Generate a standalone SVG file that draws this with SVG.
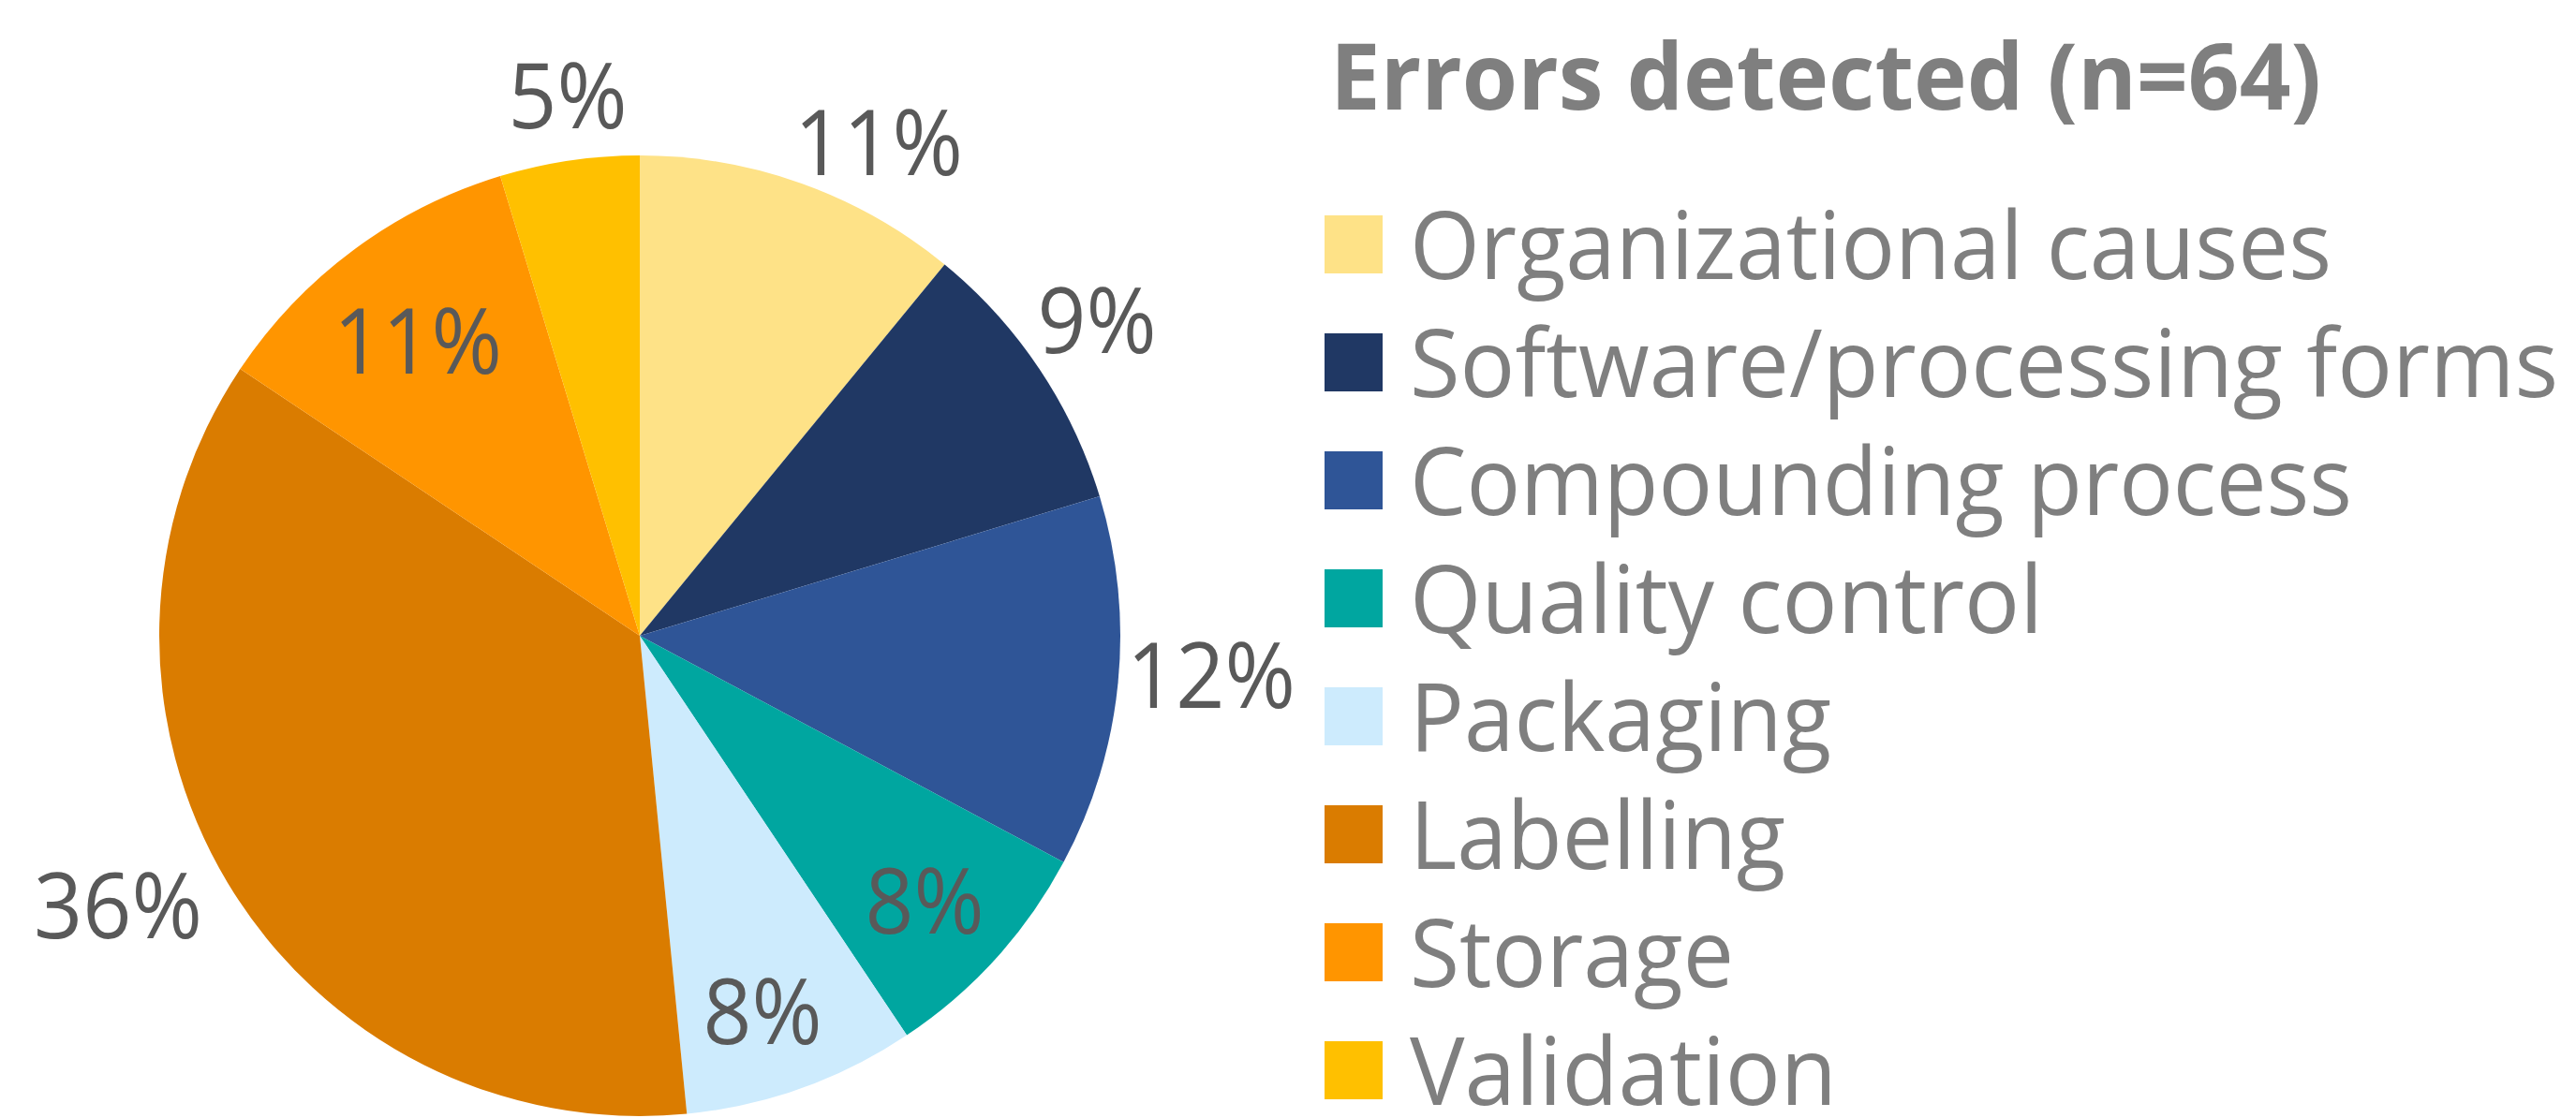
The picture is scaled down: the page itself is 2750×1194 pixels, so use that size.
<svg xmlns="http://www.w3.org/2000/svg" width="2750" height="1194" viewBox="0 0 2750 1194">
<style>
.lbl{font-family:"Open Sans","Noto Sans","Liberation Sans",sans-serif;font-size:97px;fill:#595959;text-anchor:middle}
.leg{font-family:"Open Sans","Noto Sans","Liberation Sans",sans-serif;font-size:100px;fill:#7F7F7F}
.ttl{font-family:"Open Sans","Noto Sans","Liberation Sans",sans-serif;font-size:99px;font-weight:bold;fill:#7F7F7F}
</style>
<rect width="2750" height="1194" fill="#FFFFFF"/>
<g id="pie">
  <g id="wedge-organizational"><path d="M683,679 L683,166 A513,513 0 0 1 1008.44,282.45 Z" fill="#FEE287"/></g>
  <g id="wedge-software"><path d="M683,679 L1008.44,282.45 A513,513 0 0 1 1173.91,530.09 Z" fill="#203864"/></g>
  <g id="wedge-compounding"><path d="M683,679 L1173.91,530.09 A513,513 0 0 1 1135.43,920.83 Z" fill="#2F5597"/></g>
  <g id="wedge-quality"><path d="M683,679 L1135.43,920.83 A513,513 0 0 1 968.01,1105.54 Z" fill="#00A6A0"/></g>
  <g id="wedge-packaging"><path d="M683,679 L968.01,1105.54 A513,513 0 0 1 733.28,1189.53 Z" fill="#CDEBFD"/></g>
  <g id="wedge-labelling"><path d="M683,679 L733.28,1189.53 A513,513 0 0 1 256.46,393.99 Z" fill="#DA7C00"/></g>
  <g id="wedge-storage"><path d="M683,679 L256.46,393.99 A513,513 0 0 1 534.09,188.09 Z" fill="#FF9500"/></g>
  <g id="wedge-validation"><path d="M683,679 L534.09,188.09 A513,513 0 0 1 683,166 Z" fill="#FFC000"/></g>
</g>
<g id="data-labels">
  <text class="lbl" x="938" y="187" textLength="180" lengthAdjust="spacingAndGlyphs">11%</text>
  <text class="lbl" x="1171" y="377" textLength="127" lengthAdjust="spacingAndGlyphs">9%</text>
  <text class="lbl" x="1293" y="756" textLength="180" lengthAdjust="spacingAndGlyphs">12%</text>
  <text class="lbl" x="987" y="997" textLength="127" lengthAdjust="spacingAndGlyphs">8%</text>
  <text class="lbl" x="814" y="1115" textLength="127" lengthAdjust="spacingAndGlyphs">8%</text>
  <text class="lbl" x="126" y="1002" textLength="180" lengthAdjust="spacingAndGlyphs">36%</text>
  <text class="lbl" x="446" y="399" textLength="180" lengthAdjust="spacingAndGlyphs">11%</text>
  <text class="lbl" x="606" y="137" textLength="127" lengthAdjust="spacingAndGlyphs">5%</text>
</g>
<g id="legend">
  <text class="ttl" x="1420" y="117" textLength="1058" lengthAdjust="spacingAndGlyphs">Errors detected (n=64)</text>
  <g id="legend-organizational"><rect x="1414" y="230" width="62" height="62" fill="#FEE287"/><text class="leg" x="1505" y="298" textLength="984" lengthAdjust="spacingAndGlyphs">Organizational causes</text></g>
  <g id="legend-software"><rect x="1414" y="356" width="62" height="62" fill="#203864"/><text class="leg" x="1505" y="424" textLength="1226" lengthAdjust="spacingAndGlyphs">Software/processing forms</text></g>
  <g id="legend-compounding"><rect x="1414" y="482" width="62" height="62" fill="#2F5597"/><text class="leg" x="1505" y="550" textLength="1006" lengthAdjust="spacingAndGlyphs">Compounding process</text></g>
  <g id="legend-quality"><rect x="1414" y="608" width="62" height="62" fill="#00A6A0"/><text class="leg" x="1505" y="676" textLength="676" lengthAdjust="spacingAndGlyphs">Quality control</text></g>
  <g id="legend-packaging"><rect x="1414" y="734" width="62" height="62" fill="#CDEBFD"/><text class="leg" x="1505" y="802" textLength="450" lengthAdjust="spacingAndGlyphs">Packaging</text></g>
  <g id="legend-labelling"><rect x="1414" y="860" width="62" height="62" fill="#DA7C00"/><text class="leg" x="1505" y="928" textLength="401" lengthAdjust="spacingAndGlyphs">Labelling</text></g>
  <g id="legend-storage"><rect x="1414" y="986" width="62" height="62" fill="#FF9500"/><text class="leg" x="1505" y="1054" textLength="346" lengthAdjust="spacingAndGlyphs">Storage</text></g>
  <g id="legend-validation"><rect x="1414" y="1112" width="62" height="62" fill="#FFC000"/><text class="leg" x="1505" y="1180" textLength="456" lengthAdjust="spacingAndGlyphs">Validation</text></g>
</g>
<g id="connectors"/>
</svg>
